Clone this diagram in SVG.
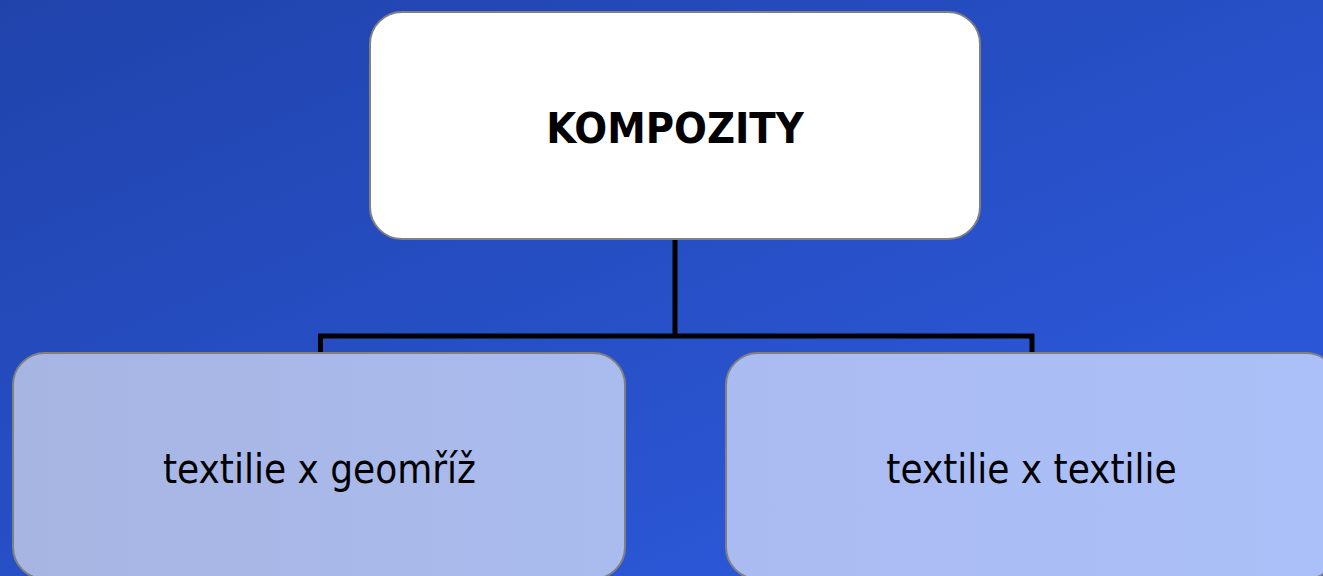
<svg xmlns="http://www.w3.org/2000/svg" width="1323" height="576" viewBox="0 0 1323 576">
  <defs>
    <linearGradient id="bg" x1="0" y1="0" x2="1" y2="1">
      <stop offset="0" stop-color="#2043ab"/>
      <stop offset="1" stop-color="#2e5ce2"/>
    </linearGradient>
    <linearGradient id="leftFill" x1="0" y1="0" x2="1" y2="0">
      <stop offset="0" stop-color="#a7b5e2"/>
      <stop offset="1" stop-color="#aabbee"/>
    </linearGradient>
    <linearGradient id="rightFill" x1="0" y1="0" x2="1" y2="0">
      <stop offset="0" stop-color="#aabbf1"/>
      <stop offset="1" stop-color="#abc0f8"/>
    </linearGradient>
  </defs>
  <style>
    .box { stroke: #808080; stroke-width: 2; }
    .conn { fill: none; stroke: #000000; stroke-width: 5; stroke-linejoin: miter; }
    .label { font-family: "DejaVu Sans Condensed", "DejaVu Sans", Verdana, sans-serif; fill: #000000; text-anchor: middle; }
    .title { font-size: 43px; font-weight: bold; }
    .child { font-size: 40px; }
  </style>

  <rect width="1323" height="576" fill="url(#bg)"/>

  <!-- tree connectors -->
  <g id="connectors">
    <path class="conn" d="M675,240 V336 M320.5,354 V336 H1032 V354"/>
  </g>

  <g id="node-kompozity">
    <rect class="box" x="370" y="12" width="610" height="227" rx="32" ry="32" fill="#ffffff"/>
    <text class="label title" x="675" y="143">KOMPOZITY</text>
  </g>

  <g id="node-geomriz">
    <rect class="box" x="13" y="353" width="612" height="226" rx="32" ry="32" fill="url(#leftFill)"/>
    <text class="label child" x="319.5" y="483">textilie x geomříž</text>
  </g>

  <g id="node-textilie">
    <rect class="box" x="726" y="353" width="612" height="226" rx="32" ry="32" fill="url(#rightFill)"/>
    <text class="label child" x="1031.5" y="483">textilie x textilie</text>
  </g>
</svg>
